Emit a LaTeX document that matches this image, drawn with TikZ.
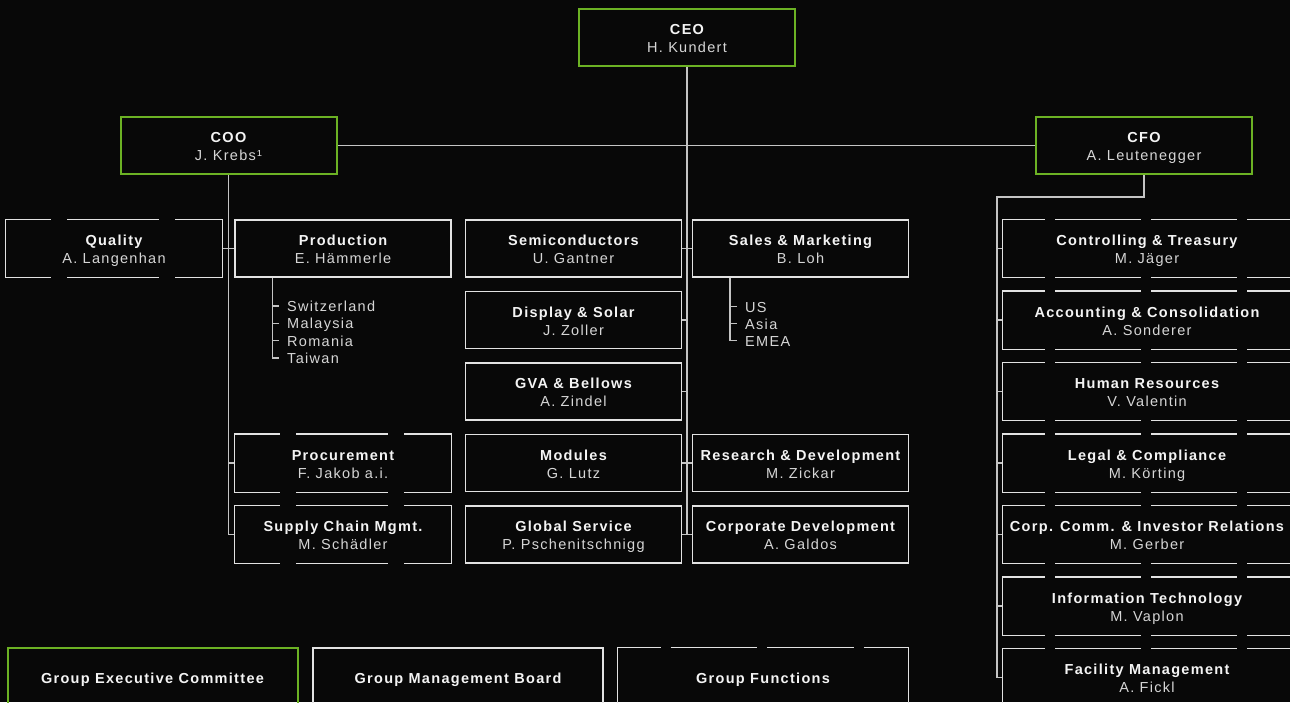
\documentclass[tikz,border=0pt]{standalone}
\usepackage{fontspec}
\setmainfont{Liberation Sans}[LetterSpace=9]
\usetikzlibrary{positioning}

\definecolor{bgcol}{HTML}{080808}
\definecolor{leadgreen}{RGB}{108,178,36}
\definecolor{framecol}{HTML}{E2E2E2}
\definecolor{linkcol}{HTML}{C4C4C4}
\definecolor{namecol}{HTML}{D6D6D6}
\definecolor{titlecol}{HTML}{F4F4F4}

% title in bold, head of the unit below it
\newcommand{\orgunit}[2]{{\bfseries\color{titlecol}#1}\\#2}

\begin{document}
\begin{tikzpicture}[
      x=1pt,y=-1pt,
      mybox/.style={
         rectangle,
         draw=framecol,
         line width=1.4pt,
         text=namecol,
         inner sep=0pt,
         minimum width=216pt,
         minimum height=57pt,
         align=center,
         text height=32pt,
         text depth=2pt,
         font=\fontsize{14.5}{18}\selectfont},
      mylead/.style={mybox, draw=leadgreen, line width=2pt},
      myfunc/.style={mybox, draw=none},
      mywide/.style={minimum width=288pt},
      mylegend/.style={
         minimum width=290pt,
         text=titlecol,
         text height=13.5pt,
         text depth=0pt,
         font=\fontsize{14.5}{18}\selectfont\bfseries},
      myitem/.style={
         anchor=west,
         inner sep=0pt,
         text=namecol,
         text height=14pt,
         text depth=3pt,
         font=\fontsize{14.5}{18}\selectfont},
      mylink/.style={draw=linkcol, line width=1.4pt},
      myside/.style={draw=framecol, line width=1.4pt},
      mydash/.style={myside, dash pattern=on 92pt off 16pt, dash phase=46pt},
      mydashwide/.style={myside, dash pattern=on 86pt off 10pt, dash phase=43pt},
      mydashlegend/.style={myside, dash pattern=on 86.67pt off 10pt, dash phase=43.33pt},
      ]
      \useasboundingbox (0,0) rectangle (1290,702);
      \fill[bgcol] (0,0) rectangle (1290,702);

      % executive board
      \node[mylead] (ceo) at (687,37.5) {\orgunit{CEO}{H. Kundert}};
      \node[mylead] (coo) at (228.5,145.5) {\orgunit{COO}{J. Krebs¹}};
      \node[mylead] (cfo) at (1144,145.5) {\orgunit{CFO}{A. Leutenegger}};

      % operations
      \node[myfunc] (qual) at (114,248.5) {\orgunit{Quality}{A. Langenhan}};
      \node[mybox] (prod) at (343,248.5) {\orgunit{Production}{E. Hämmerle}};
      \node[myfunc] (proc) at (343,463) {\orgunit{Procurement}{F. Jakob a.i.}};
      \node[myfunc] (scm) at (343,534.5) {\orgunit{Supply Chain Mgmt.}{M. Schädler}};

      % business units
      \node[mybox] (semi) at (573.5,248.5) {\orgunit{Semiconductors}{U. Gantner}};
      \node[mybox] (disp) at (573.5,320) {\orgunit{Display \& Solar}{J. Zoller}};
      \node[mybox] (gva) at (573.5,391.5) {\orgunit{GVA \& Bellows}{A. Zindel}};
      \node[mybox] (modules) at (573.5,463) {\orgunit{Modules}{G. Lutz}};
      \node[mybox] (gserv) at (573.5,534.5) {\orgunit{Global Service}{P. Pschenitschnigg}};
      \node[mybox] (sales) at (800.5,248.5) {\orgunit{Sales \& Marketing}{B. Loh}};
      \node[mybox] (rnd) at (800.5,463) {\orgunit{Research \& Development}{M. Zickar}};
      \node[mybox] (cdev) at (800.5,534.5) {\orgunit{Corporate Development}{A. Galdos}};

      % finance
      \node[myfunc,mywide] (ctrl) at (1147,248.5) {\orgunit{Controlling \& Treasury}{M. Jäger}};
      \node[myfunc,mywide] (acc) at (1147,320) {\orgunit{Accounting \& Consolidation}{A. Sonderer}};
      \node[myfunc,mywide] (hr) at (1147,391.5) {\orgunit{Human Resources}{V. Valentin}};
      \node[myfunc,mywide] (legal) at (1147,463) {\orgunit{Legal \& Compliance}{M. Körting}};
      \node[myfunc,mywide] (comm) at (1147,534.5) {\orgunit{Corp. Comm. \& Investor Relations}{M. Gerber}};
      \node[myfunc,mywide] (it) at (1147,606) {\orgunit{Information Technology}{M. Vaplon}};
      \node[myfunc,mywide] (facil) at (1147,677.5) {\orgunit{Facility Management}{A. Fickl}};

      % sites and regions
      \node[myitem] (sw) at (287,306) {Switzerland};
      \node[myitem] (my) at (287,323.3) {Malaysia};
      \node[myitem] (ro) at (287,340.6) {Romania};
      \node[myitem] (tw) at (287,358) {Taiwan};
      \node[myitem] (us) at (745,306.5) {US};
      \node[myitem] (asia) at (745,323.5) {Asia};
      \node[myitem] (emea) at (745,340.5) {EMEA};

      % legend
      \node[mylead,mylegend] (gec) at (152.5,676.5) {Group Executive Committee};
      \node[mybox,mylegend] (gmb) at (458,676.5) {Group Management Board};
      \node[myfunc,mylegend] (gf) at (763,676.5) {Group Functions};

      % group functions: solid sides, broken top and bottom
    \foreach \n/\d in {
      qual/mydash,
      proc/mydash,
      scm/mydash,
      ctrl/mydashwide,
      acc/mydashwide,
      hr/mydashwide,
      legal/mydashwide,
      comm/mydashwide,
      it/mydashwide,
      facil/mydashwide,
      gf/mydashlegend}{
       \draw[myside] (\n.north west) -- (\n.south west) (\n.north east) -- (\n.south east);
       \draw[\d] (\n.north west) -- (\n.north east);
       \draw[\d] (\n.south west) -- (\n.south east);
    }

      % reporting lines
      \draw[mylink] (coo.east) -- (cfo.west);
      \draw[mylink] (ceo.south) -- (ceo.south |- cdev.west);
      \draw[mylink] (semi.east) -- (sales.west);
      \draw[mylink] (modules.east) -- (rnd.west);
      \draw[mylink] (gserv.east) -- (cdev.west);
    \foreach \n in {disp,gva}
       \draw[mylink] (\n.east) -- (\n.east -| ceo.south);

      \draw[mylink] (coo.south) -- (coo.south |- scm.west);
      \draw[mylink] (qual.east) -- (prod.west);
    \foreach \n in {proc,scm}
       \draw[mylink] (\n.west) -- (\n.west -| coo.south);

      \coordinate (fbus) at (997,197);
      \draw[mylink] (cfo.south) |- (fbus) -- (fbus |- facil.west);
    \foreach \n in {ctrl,acc,hr,legal,comm,it,facil}
       \draw[mylink] (\n.west) -- (\n.west -| fbus);

      \draw[mylink] ([xshift=38]prod.south west) |- ([xshift=-8]tw.west);
    \foreach \n in {sw,my,ro}
       \draw[mylink] ([xshift=-8]\n.west) -- ++(-6,0);
      \draw[mylink] ([xshift=38]sales.south west) |- ([xshift=-8]emea.west);
    \foreach \n in {us,asia}
       \draw[mylink] ([xshift=-8]\n.west) -- ++(-6,0);
\end{tikzpicture}
\end{document}
